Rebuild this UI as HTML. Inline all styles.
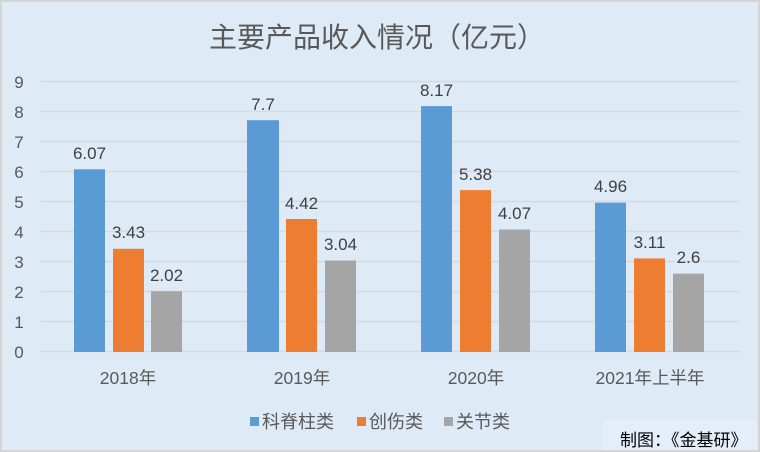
<!DOCTYPE html>
<html><head><meta charset="utf-8"><style>
body{margin:0;width:760px;height:452px;overflow:hidden;background:#fff}
svg{display:block;font-family:"Liberation Sans","Noto Sans CJK SC",sans-serif}
</style></head><body>
<svg width="760" height="452" viewBox="0 0 760 452">
<rect x="1" y="1" width="758" height="450" fill="#deeaf6" stroke="#d4d4d4" stroke-width="2"/>
<rect x="603" y="420" width="154" height="30" fill="#e4eef8"/>
<text x="377" y="47" text-anchor="middle" font-size="28" fill="#595959">主要产品收入情况（亿元）</text>
<g stroke="#d9d9d9" stroke-width="1.5">
<line x1="41" x2="740" y1="81.5" y2="81.5"/><line x1="41" x2="740" y1="111.5" y2="111.5"/>
<line x1="41" x2="740" y1="141.5" y2="141.5"/><line x1="41" x2="740" y1="171.5" y2="171.5"/>
<line x1="41" x2="740" y1="201.5" y2="201.5"/><line x1="41" x2="740" y1="231.5" y2="231.5"/>
<line x1="41" x2="740" y1="261.5" y2="261.5"/><line x1="41" x2="740" y1="291.5" y2="291.5"/>
<line x1="41" x2="740" y1="321.5" y2="321.5"/><line x1="41" x2="740" y1="351.5" y2="351.5"/>
</g>
<g font-size="17" fill="#595959" text-anchor="middle">
<text x="19" y="88">9</text><text x="19" y="118">8</text><text x="19" y="148">7</text><text x="19" y="178">6</text><text x="19" y="208">5</text><text x="19" y="238">4</text><text x="19" y="268">3</text><text x="19" y="298">2</text><text x="19" y="328">1</text><text x="19" y="358">0</text>
</g>
<g>
<rect x="74" y="169.3" width="31" height="182.7" fill="#5b9bd5"/>
<rect x="113" y="248.8" width="31" height="103.2" fill="#ed7d31"/>
<rect x="151" y="291.2" width="31" height="60.8" fill="#a5a5a5"/>
<rect x="247" y="120.2" width="32" height="231.8" fill="#5b9bd5"/>
<rect x="286" y="219" width="31" height="133" fill="#ed7d31"/>
<rect x="325" y="260.5" width="31" height="91.5" fill="#a5a5a5"/>
<rect x="421" y="106.1" width="31" height="245.9" fill="#5b9bd5"/>
<rect x="460" y="190.1" width="31" height="161.9" fill="#ed7d31"/>
<rect x="499" y="229.5" width="31" height="122.5" fill="#a5a5a5"/>
<rect x="595" y="202.7" width="31" height="149.3" fill="#5b9bd5"/>
<rect x="634" y="258.4" width="31" height="93.6" fill="#ed7d31"/>
<rect x="673" y="273.7" width="31" height="78.3" fill="#a5a5a5"/>
</g>
<g font-size="17" fill="#404040" text-anchor="middle">
<text x="89.5" y="159">6.07</text><text x="128.5" y="238">3.43</text><text x="166.5" y="281">2.02</text>
<text x="263" y="110">7.7</text><text x="301.5" y="209">4.42</text><text x="340.5" y="250">3.04</text>
<text x="436.5" y="96">8.17</text><text x="475.5" y="180">5.38</text><text x="514.5" y="219">4.07</text>
<text x="610.5" y="192">4.96</text><text x="649.5" y="248">3.11</text><text x="688.5" y="263">2.6</text>
</g>
<g font-size="17.5" fill="#595959" text-anchor="middle">
<text x="128" y="384">2018年</text><text x="302" y="384">2019年</text><text x="476" y="384">2020年</text><text x="650" y="384">2021年上半年</text>
</g>
<rect x="250" y="417" width="9" height="9" fill="#5b9bd5"/>
<rect x="357" y="417" width="9" height="9" fill="#ed7d31"/>
<rect x="444" y="417" width="9" height="9" fill="#a5a5a5"/>
<g font-size="18" fill="#595959">
<text x="262" y="428">科脊柱类</text><text x="369" y="428">创伤类</text><text x="456" y="428">关节类</text>
</g>
<text x="620" y="446" font-size="17" fill="#000">制图：《金基研》</text>
</svg>
</body></html>
